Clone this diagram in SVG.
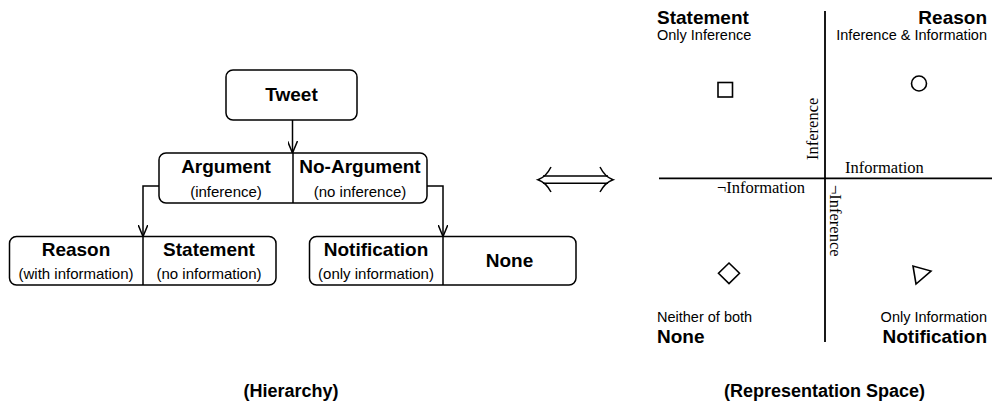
<svg xmlns="http://www.w3.org/2000/svg" width="995" height="405" viewBox="0 0 995 405">
<style>
  .box { fill: #fff; stroke: #000; stroke-width: 1.5; }
  .div { stroke: #000; stroke-width: 1.5; }
  .conn { fill: none; stroke: #000; stroke-width: 1.5; }
  .t { font-family: "Liberation Sans", Arial, Helvetica, sans-serif; font-size: 19px; font-weight: bold; fill: #000; text-anchor: middle; }
  .s { font-family: "Liberation Sans", Arial, Helvetica, sans-serif; font-size: 15px; fill: #000; text-anchor: middle; }
  .qt { font-family: "Liberation Sans", Arial, Helvetica, sans-serif; font-size: 19px; font-weight: bold; fill: #000; }
  .qs { font-family: "Liberation Sans", Arial, Helvetica, sans-serif; font-size: 14.5px; fill: #000; }
  .ax { font-family: "Liberation Serif", "DejaVu Serif", serif; font-size: 16.5px; fill: #000; }
  .cap { font-family: "Liberation Sans", Arial, Helvetica, sans-serif; font-size: 18px; font-weight: bold; fill: #000; text-anchor: middle; }
  .axis { stroke: #000; stroke-width: 1.8; }
  .sym { fill: none; stroke: #000; stroke-width: 1.6; }
</style>
<defs>
  <marker id="arr" viewBox="0 0 12 10" refX="12" refY="5" markerWidth="12" markerHeight="10" markerUnits="userSpaceOnUse" orient="auto">
    <path d="M0,0 L12,5 L0,10" fill="none" stroke="#000" stroke-width="1.5"/>
  </marker>
</defs>

<g id="tweet">
  <rect class="box" x="226" y="70" width="131" height="50" rx="7"/>
  <text class="t" x="291.5" y="101">Tweet</text>
</g>

<g id="argument">
  <rect class="box" x="159" y="153" width="268" height="50" rx="7"/>
  <line class="div" x1="293" y1="153" x2="293" y2="203"/>
  <text class="t" x="226" y="173">Argument</text>
  <text class="s" x="226" y="197">(inference)</text>
  <text class="t" x="360" y="173">No-Argument</text>
  <text class="s" x="360" y="197">(no inference)</text>
</g>

<g id="reason-statement">
  <rect class="box" x="9.5" y="236.5" width="266.5" height="48.5" rx="7"/>
  <line class="div" x1="143" y1="236.5" x2="143" y2="285"/>
  <text class="t" x="76" y="256">Reason</text>
  <text class="s" x="76" y="279">(with information)</text>
  <text class="t" x="209" y="256">Statement</text>
  <text class="s" x="209" y="279">(no information)</text>
</g>

<g id="notification-none">
  <rect class="box" x="309.5" y="236.5" width="266.5" height="48.5" rx="7"/>
  <line class="div" x1="443" y1="236.5" x2="443" y2="285"/>
  <text class="t" x="376" y="256">Notification</text>
  <text class="s" x="376" y="279">(only information)</text>
  <text class="t" x="509.5" y="267">None</text>
</g>

<g id="connectors">
  <path class="conn" d="M292.5,120 V153" marker-end="url(#arr)"/>
  <path class="conn" d="M159,186 H143 V236.5" marker-end="url(#arr)"/>
  <path class="conn" d="M427,186 H443 V236.5" marker-end="url(#arr)"/>
</g>

<g id="equivalence">
  <path class="conn" d="M543,176 H608 M543,183.3 H608"/>
  <path class="conn" d="M551,167 Q546,177 538,179.7 Q546,182.5 551,192"/>
  <path class="conn" d="M600,167 Q605,177 613,179.7 Q605,182.5 600,192"/>
</g>

<g id="space">
  <line class="axis" x1="825" y1="11" x2="825" y2="342"/>
  <line class="axis" x1="659" y1="178.3" x2="992" y2="178.3"/>
  <text class="ax" x="845" y="173">Information</text>
  <text class="ax" x="805" y="193" text-anchor="end">¬Information</text>
  <text class="ax" transform="translate(818,160) rotate(-90)">Inference</text>
  <text class="ax" transform="translate(830,185) rotate(90)">¬Inference</text>
</g>

<g id="q-statement">
  <text class="qt" x="657" y="24">Statement</text>
  <text class="qs" x="657" y="40">Only Inference</text>
  <rect class="sym" x="718" y="82.5" width="14.5" height="14.5"/>
</g>

<g id="q-reason">
  <text class="qt" x="987" y="24" text-anchor="end">Reason</text>
  <text class="qs" x="987" y="40" text-anchor="end">Inference &amp; Information</text>
  <circle class="sym" cx="919" cy="83.5" r="7.5"/>
</g>

<g id="q-none">
  <polygon class="sym" points="729,263 739.5,273.3 729,283.6 718.5,273.3"/>
  <text class="qs" x="657" y="322">Neither of both</text>
  <text class="qt" x="657" y="343">None</text>
</g>

<g id="q-notification">
  <polygon class="sym" points="913,266 916,284 931,271"/>
  <text class="qs" x="987" y="322" text-anchor="end">Only Information</text>
  <text class="qt" x="987" y="343" text-anchor="end">Notification</text>
</g>

<g id="captions">
  <text class="cap" x="291" y="397">(Hierarchy)</text>
  <text class="cap" x="824.5" y="397">(Representation Space)</text>
</g>
</svg>
